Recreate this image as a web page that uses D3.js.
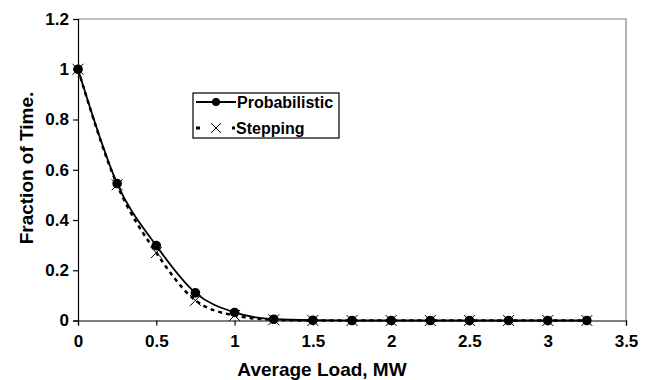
<!DOCTYPE html>
<meta charset="utf-8">
<script src="https://cdn.jsdelivr.net/npm/d3@7"></script>
<style>
body { margin: 0; background: #fff; }
.axis path, .axis line { stroke: #000; stroke-width: 1.2; }
.title { font-family: "Liberation Sans", Arial, sans-serif; font-weight: bold; font-size: 19px; fill: #000; }
.leg text { font-family: "Liberation Sans", Arial, sans-serif; font-weight: bold; font-size: 16px; fill: #000; }
</style>
<div id="chart"></div>
<script>
// data
var loads = [0, 0.25, 0.5, 0.75, 1, 1.25, 1.5, 1.75, 2, 2.25, 2.5, 2.75, 3, 3.25];
var probabilistic = [1, 0.545, 0.298, 0.11, 0.032, 0.005, 0.001, 0, 0, 0, 0, 0, 0, 0];
var stepping = [1, 0.54, 0.27, 0.08, 0.02, 0.003, 0, 0, 0, 0, 0, 0, 0, 0];
var xTicks = [0, 0.5, 1, 1.5, 2, 2.5, 3, 3.5];
var yTicks = [0, 0.2, 0.4, 0.6, 0.8, 1, 1.2];

var W = 653, H = 380;
var mLeft = 78, mRight = 626, mTop = 19, mBottom = 320.5;

var svg = d3.select("#chart").append("svg").attr("width", W).attr("height", H);

var x = d3.scaleLinear().domain([0, 3.5]).range([mLeft, mRight]);
var y = d3.scaleLinear().domain([0, 1.2]).range([mBottom, mTop]);

// gray frame top/right
svg.append("path")
  .attr("d", "M" + mLeft + "," + mTop + "H" + mRight + "V" + mBottom)
  .attr("fill", "none").attr("stroke", "#808080").attr("stroke-width", 1.2);

var xAxis = svg.append("g").attr("class", "axis")
  .attr("transform", "translate(0," + mBottom + ")")
  .call(d3.axisBottom(x).tickValues(xTicks).tickFormat(d3.format("")).tickSizeOuter(0).tickSize(5).tickPadding(9));

var yAxis = svg.append("g").attr("class", "axis")
  .attr("transform", "translate(" + mLeft + ",0)")
  .call(d3.axisLeft(y).tickValues(yTicks).tickFormat(d3.format("")).tickSizeOuter(0).tickSize(5).tickPadding(4));

[xAxis, yAxis].forEach(function(a) {
  a.attr("font-family", "Liberation Sans, Arial, sans-serif").attr("font-size", 17);
  a.selectAll("text").style("font-weight", "bold").style("fill", "#000");
});

svg.append("text").attr("class", "title")
  .attr("x", 322).attr("y", 376).attr("text-anchor", "middle")
  .text("Average Load, MW");

svg.append("text").attr("class", "title")
  .attr("transform", "translate(33," + 168 + ") rotate(-90)")
  .attr("text-anchor", "middle")
  .text("Fraction of Time.");

var probPts = loads.map(function(d, i) { return [d, probabilistic[i]]; });
var stepPts = loads.map(function(d, i) { return [d, stepping[i]]; });

var line = d3.line()
  .x(function(d) { return x(d[0]); })
  .y(function(d) { return y(d[1]); })
  .curve(d3.curveMonotoneX);

svg.append("path").attr("d", line(stepPts))
  .attr("fill", "none").attr("stroke", "#000").attr("stroke-width", 2.5)
  .attr("stroke-dasharray", "4,4");

svg.append("path").attr("d", line(probPts))
  .attr("fill", "none").attr("stroke", "#000").attr("stroke-width", 1.8);

function cross(g, cx, cy, s) {
  g.append("path")
    .attr("d", "M" + (cx - s) + "," + (cy - s) + "L" + (cx + s) + "," + (cy + s) +
               "M" + (cx - s) + "," + (cy + s) + "L" + (cx + s) + "," + (cy - s))
    .attr("stroke", "#000").attr("stroke-width", 1);
}

svg.selectAll("circle.p").data(probPts).enter().append("circle")
  .attr("class", "p")
  .attr("cx", function(d) { return x(d[0]); })
  .attr("cy", function(d) { return y(d[1]); })
  .attr("r", 4.8).attr("fill", "#000");

var crosses = svg.append("g");
stepPts.forEach(function(d) { cross(crosses, x(d[0]), y(d[1]), 5.5); });

// legend
var leg = svg.append("g").attr("class", "leg");
leg.append("rect").attr("x", 193).attr("y", 93).attr("width", 146).attr("height", 45)
  .attr("fill", "#fff").attr("stroke", "#000").attr("stroke-width", 1.2);
leg.append("line").attr("x1", 196).attr("x2", 236).attr("y1", 102).attr("y2", 102)
  .attr("stroke", "#000").attr("stroke-width", 1.8);
leg.append("circle").attr("cx", 216).attr("cy", 102).attr("r", 4).attr("fill", "#000");
leg.append("text").attr("x", 237).attr("y", 108).text("Probabilistic");
leg.append("line").attr("x1", 196).attr("x2", 200).attr("y1", 128).attr("y2", 128)
  .attr("stroke", "#000").attr("stroke-width", 3);
leg.append("line").attr("x1", 232).attr("x2", 235).attr("y1", 128).attr("y2", 128)
  .attr("stroke", "#000").attr("stroke-width", 3);
cross(leg, 216, 128, 5);
leg.append("text").attr("x", 236).attr("y", 134).text("Stepping");
</script>
